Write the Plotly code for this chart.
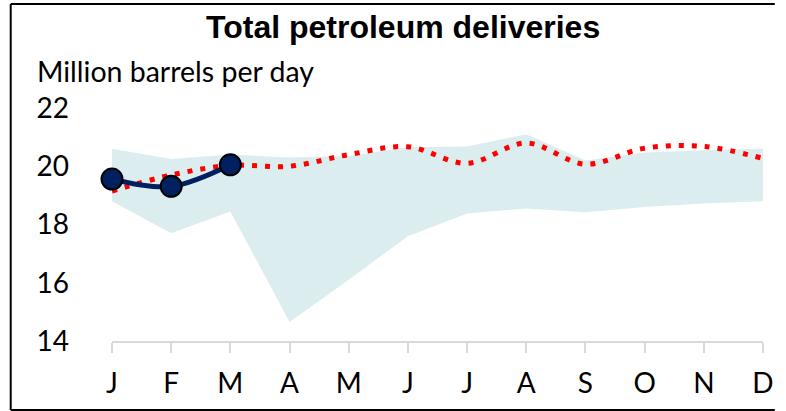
import plotly.graph_objects as go

months = ["J", "F", "M", "A", "M", "J", "J", "A", "S", "O", "N", "D"]
x_pos = list(range(12))

# range of previous years (shaded band)
band_high = [20.6, 20.25, 20.4, 20.3, 20.35, 20.65, 20.68, 21.1, 20.2, 20.47, 20.55, 20.6]
band_low = [18.8, 17.7, 18.45, 14.65, 16.1, 17.6, 18.38, 18.55, 18.42, 18.6, 18.72, 18.8]
# average of previous years (red dotted)
avg_line = [19.15, 19.7, 20.03, 20.0, 20.4, 20.67, 20.1, 20.8, 20.07, 20.62, 20.68, 20.27]
# current year
cur_x = [0, 1, 2]
cur_line = [19.56, 19.31, 20.05]

W, H = 786, 411
L, R, T, B = 112, 12, 108, 70
pw, ph = W - L - R, H - T - B


def px(xp):
    return (xp - L) / pw


def py(yp):
    return (H - B - yp) / ph


fig = go.Figure()
fig.add_trace(go.Scatter(x=x_pos, y=band_low, mode="lines", line=dict(width=0, color="#dbedef"),
                         hoverinfo="skip", showlegend=False))
fig.add_trace(go.Scatter(x=x_pos, y=band_high, mode="lines", line=dict(width=0, color="#dbedef"),
                         fill="tonexty", fillcolor="#dbedef", hoverinfo="skip", showlegend=False))
fig.add_trace(go.Scatter(x=x_pos, y=avg_line, mode="lines",
                         line=dict(color="#ff0000", width=5, dash="5px,8px", shape="spline", smoothing=1),
                         showlegend=False))
fig.add_trace(go.Scatter(x=cur_x, y=cur_line, mode="lines+markers",
                         line=dict(color="#002060", width=5, shape="spline", smoothing=1),
                         marker=dict(size=21, color="#002060", line=dict(color="black", width=2)),
                         cliponaxis=False, showlegend=False))

fig.update_xaxes(range=[0, 11], tickvals=x_pos, ticktext=months, showgrid=False, zeroline=False,
                 showline=True, linecolor="#d9d9d9", linewidth=2,
                 ticks="outside", ticklen=10, tickwidth=2, tickcolor="#d9d9d9", ticklabelstandoff=6,
                 tickfont=dict(family="Lato", size=28, color="black"))
fig.update_yaxes(range=[14, 22], tickvals=[14, 16, 18, 20, 22], showgrid=False, zeroline=False,
                 showline=False, ticklabelstandoff=42,
                 tickfont=dict(family="Lato", size=28, color="black"))

fig.add_annotation(text="<b>Total petroleum deliveries</b>", xref="paper", yref="paper",
                   x=px(408), y=py(27), xanchor="center", yanchor="middle", showarrow=False,
                   font=dict(family="Liberation Sans", size=32, color="black"))
fig.add_annotation(text="Million barrels per day", xref="paper", yref="paper",
                   x=px(34), y=py(71), xanchor="left", yanchor="middle", showarrow=False,
                   font=dict(family="Lato", size=28.5, color="black"))

# outer frame: left, top and bottom edges only (right edge is off the picture)
frame = dict(color="black", width=2)
fig.add_shape(type="line", xref="paper", yref="paper", x0=px(9), x1=px(9), y0=py(410), y1=py(4), line=frame)
fig.add_shape(type="line", xref="paper", yref="paper", x0=px(9), x1=px(786), y0=py(4), y1=py(4), line=frame)
fig.add_shape(type="line", xref="paper", yref="paper", x0=px(9), x1=px(786), y0=py(410), y1=py(410), line=frame)

fig.update_layout(width=W, height=H, margin=dict(l=L, r=R, t=T, b=B),
                  plot_bgcolor="white", paper_bgcolor="white")

fig.write_html("out.html", config={"displayModeBar": False},
               post_script="document.documentElement.style.overflow='hidden';"
                           "document.body.style.margin='0px';document.body.style.overflow='hidden';")
